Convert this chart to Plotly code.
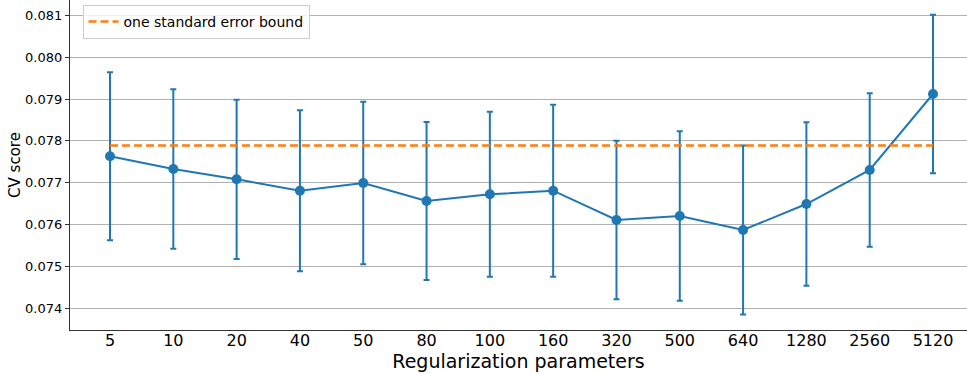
import plotly.graph_objects as go

params = ["5", "10", "20", "40", "50", "80", "100", "160", "320", "500", "640", "1280", "2560", "5120"]
cv_mean = [0.077632, 0.077328, 0.077081, 0.076809, 0.076993, 0.076562, 0.076722,
           0.076809, 0.076108, 0.076203, 0.075868, 0.076490, 0.077304, 0.079122]
cv_se = [0.002010, 0.001907, 0.001906, 0.001926, 0.001945, 0.001890, 0.001974,
         0.002057, 0.001897, 0.002026, 0.002022, 0.001954, 0.001834, 0.001894]
bound = 0.07789
y_ticks = [0.074, 0.075, 0.076, 0.077, 0.078, 0.079, 0.080, 0.081]

blue = "#1f77b4"
orange = "#ff7f0e"
font = "DejaVu Sans"

fig = go.Figure()
fig.add_trace(go.Scatter(
    x=params, y=cv_mean, mode="lines+markers",
    line=dict(color=blue, width=2),
    marker=dict(color=blue, size=10),
    error_y=dict(type="data", array=cv_se, visible=True, color=blue, thickness=2, width=3),
    showlegend=False,
))
fig.add_trace(go.Scatter(
    x=params, y=[bound] * len(params), mode="lines",
    line=dict(color=orange, width=2.5, dash="8px,4px"),
    name="one standard error bound",
))

fig.update_layout(
    width=967, height=374,
    margin=dict(l=70, r=0, t=0, b=44),
    plot_bgcolor="white", paper_bgcolor="white",
    font=dict(family=font, color="#000000"),
    legend=dict(
        x=0.014, y=0.985, xanchor="left", yanchor="top",
        bgcolor="rgba(255,255,255,0.8)", bordercolor="#cccccc", borderwidth=1,
        font=dict(size=14, family=font),
        itemwidth=30,
    ),
    xaxis=dict(
        type="category",
        range=[-0.632, 13.537],
        showgrid=False,
        showline=True, linecolor="#333333", linewidth=1.2,
        ticks="", tickfont=dict(size=16, family=font),
        ticklabelstandoff=-4,
        title=dict(text="Regularization parameters", font=dict(size=19, family=font), standoff=0),
        zeroline=False,
    ),
    yaxis=dict(
        range=[0.073476, 0.081371],
        tickvals=y_ticks,
        ticktext=[f"{v:.3f}" for v in y_ticks],
        showgrid=True, gridcolor="#b0b0b0", gridwidth=1,
        showline=True, linecolor="#333333", linewidth=1.2,
        ticks="outside", ticklen=4, tickcolor="#333333",
        tickfont=dict(size=13, family=font),
        title=dict(text="CV score", font=dict(size=15, family=font), standoff=0),
        zeroline=False,
    ),
)

fig.write_html("out.html")
